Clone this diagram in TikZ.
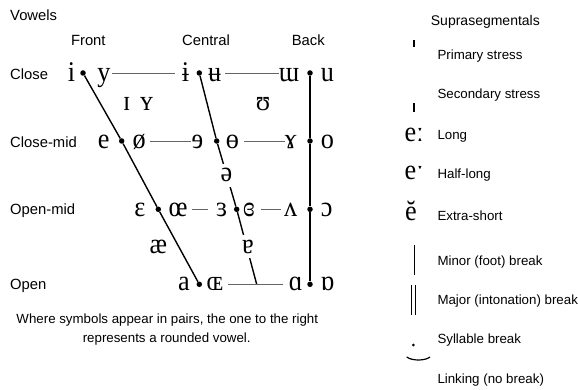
\documentclass[tikz,border=0pt]{standalone}
\usepackage{fontspec}
\setmainfont{Liberation Sans}
\newfontfamily\ipa{Liberation Serif}[FakeStretch=0.92]
\usetikzlibrary{calc}

\tikzset{
  sym/.style={font=\ipa\fontsize{28.5}{28}\selectfont, inner sep=0pt, anchor=base},
  gapsym/.style={sym, fill=white, inner sep=5pt},
  lab/.style={font=\fontsize{14.8}{16}\selectfont, inner sep=0pt, anchor=base west},
  head/.style={lab, anchor=base},
  note/.style={font=\fontsize{13.3}{15}\selectfont, inner sep=0pt, anchor=base},
  side/.style={font=\fontsize{13.3}{15}\selectfont, inner sep=0pt, anchor=base west},
  sidesym/.style={font=\ipa\fontsize{28.5}{28}\selectfont, inner sep=0pt, anchor=base west},
  pt/.style={circle, fill=black, inner sep=0pt, minimum size=5.5pt},
  guide/.style={line width=1.4pt, black},
  hline/.style={line width=0.9pt, black!60},
  tickline/.style={line width=1.1pt, black}
}

\begin{document}
\begin{tikzpicture}[x=1pt, y=-1pt]
\path[use as bounding box] (0,0) rectangle (578,390);

% --- dots marking the vowel positions ---
\node[pt] (d11) at (83,73) {};
\node[pt] (d12) at (199.3,73) {};
\node[pt] (d13) at (310,73) {};
\node[pt] (d21) at (121.7,141) {};
\node[pt] (d22) at (216.7,141) {};
\node[pt] (d23) at (310,141) {};
\node[pt] (d31) at (158.3,209.3) {};
\node[pt] (d32) at (236.7,209.3) {};
\node[pt] (d33) at (310,209.3) {};
\node[pt] (d41) at (199.3,284.3) {};
\node[pt] (d43) at (310,284.3) {};
\coordinate (cjoin) at (256.7,284.3);

% --- the three slanted/vertical guide lines ---
\draw[guide] (d11) -- (d21) -- (d31) -- (d41);
\draw[guide] (d12) -- (d22) -- (d32) -- (cjoin);
\draw[guide] (d13) -- (d23) -- (d33) -- (d43);

% --- vowel symbols ---
\node[sym] (i)    at (71.5,81.7) {i};
\node[sym] (y)    at (104,81.7) {y};
\node[sym] (ibar) at (185.5,81.7) {ɨ};
\node[sym] (ubar) at (214.7,81.7) {ʉ};
\node[sym] (mw)   at (289,81.7) {ɯ};
\node[sym] (u)    at (327.5,81.7) {u};

\node[sym] (smi)  at (126.7,111) {ɪ};
\node[sym] (smy)  at (146.7,111) {ʏ};
\node[sym] (hsu)  at (263,111) {ʊ};

\node[sym] (e)    at (103.7,148.3) {e};
\node[sym] (oe)   at (139.3,148.3) {ø};
\node[sym] (revE) at (197.5,148.3) {ɘ};
\node[sym] (obar) at (232.5,148.3) {ɵ};
\node[sym] (ram)  at (290.8,148.3) {ɤ};
\node[sym] (o)    at (327.5,148.3) {o};

\node[gapsym] (schwa) at (226.5,182) {ə};

\node[sym] (eps)  at (140,216.6) {ɛ};
\node[sym] (oel)  at (178,216.6) {œ};
\node[sym] (reps) at (221.7,216.6) {ɜ};
\node[sym] (ceps) at (249,216.6) {ɞ};
\node[sym] (wedge) at (290.8,216.6) {ʌ};
\node[sym] (oo)   at (326.7,216.6) {ɔ};

\node[sym] (ae)   at (158.3,253) {æ};
\node[gapsym] (turna) at (248,253) {ɐ};

\node[sym] (a)    at (184,290) {a};
\node[sym] (scoe) at (215,290) {ɶ};
\node[sym] (alpha) at (295.8,290) {ɑ};
\node[sym] (turnalpha) at (327.5,290) {ɒ};

% --- horizontal links between the symbol pairs ---
\draw[hline] ($(y.center |- d11)+(7.7,0)$) -- ($(ibar.center |- d12)+(-10.5,0)$);
\draw[hline] ($(ubar.center |- d12)+(10.3,0)$) -- ($(mw.center |- d13)+(-10,0)$);
\draw[hline] ($(oe.center |- d21)+(10.7,0)$) -- ($(revE.center |- d22)+(-7,0)$);
\draw[hline] ($(obar.center |- d22)+(11.5,0)$) -- ($(ram.center |- d23)+(-5.8,0)$);
\draw[hline] ($(oel.center |- d31)+(13.7,0)$) -- ($(reps.center |- d32)+(-13.4,0)$);
\draw[hline] ($(ceps.center |- d32)+(12,0)$) -- ($(wedge.center |- d33)+(-10.3,0)$);
\draw[hline] ($(scoe.center |- d41)+(13.3,0)$) -- ($(alpha.center |- d43)+(-12.5,0)$);

% --- axis labels ---
\node[lab] (vowels) at (10,20.7) {Vowels};
\node[head] (front) at (88.3,46) {Front};
\node[head] (central) at (206,46) {Central};
\node[head] (back) at (308.3,46) {Back};
\node[lab] (close) at (10,80) {Close};
\node[lab] (closemid) at (10,147.3) {Close-mid};
\node[lab] (openmid) at (10,214.3) {Open-mid};
\node[lab] (open) at (10,289) {Open};

\node[note] (cap1) at (167.3,323.3) {Where symbols appear in pairs, the one to the right};
\node[note] (cap2) at (166.7,342.5) {represents a rounded vowel.};

% --- suprasegmentals column ---
\node[side, font=\fontsize{14}{15}\selectfont] (supra) at (430.7,26) {Suprasegmentals};
\draw[tickline] (414,40) -- (414,47.3);
\node[side] (prim) at (437.3,59.3) {Primary stress};
\node[side] (sec) at (437.3,99) {Secondary stress};
\draw[tickline] (414,103.3) -- (414,111.7);
\node[sidesym] (long) at (404.5,141.7) {eː};
\node[side] (longt) at (437.3,139.3) {Long};
\node[sidesym] (half) at (404.5,180) {eˑ};
\node[side] (halft) at (437.3,179) {Half-long};
\node[sidesym] (xshort) at (405,220.7) {ĕ};
\node[side] (xshortt) at (437.3,220.7) {Extra-short};
\draw[tickline, line width=1pt] (414.3,245) -- (414.3,275);
\node[side] (minor) at (437.3,265) {Minor (foot) break};
\draw[tickline, line width=1pt] (411.7,285) -- (411.7,315);
\draw[tickline, line width=1pt] (415.7,285) -- (415.7,315);
\node[side] (major) at (437.3,304) {Major (intonation) break};
\fill (413.3,345) circle (1.5pt);
\node[side] (syll) at (437.3,343.3) {Syllable break};
\draw[line width=1.2pt] (406.7,357) .. controls (412,361) and (425,361) .. (430,357);
\node[side] (link) at (437.3,383.3) {Linking (no break)};
\end{tikzpicture}
\end{document}
